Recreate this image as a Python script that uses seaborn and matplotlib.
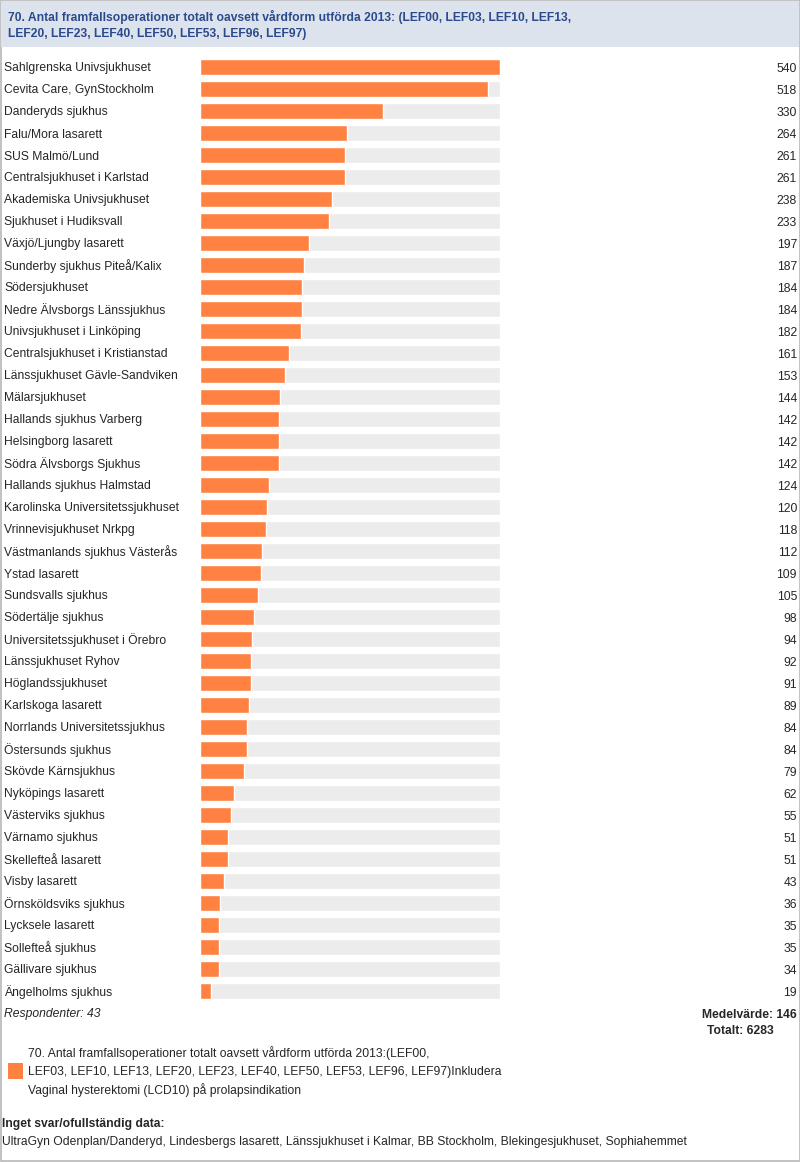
import matplotlib
matplotlib.use("Agg")
import matplotlib.pyplot as plt
import matplotlib.transforms as mtransforms
from matplotlib.patches import Rectangle
import seaborn as sns
import pandas as pd

hospitals = [
    "Sahlgrenska Univsjukhuset", "Cevita Care, GynStockholm", "Danderyds sjukhus",
    "Falu/Mora lasarett", "SUS Malmö/Lund", "Centralsjukhuset i Karlstad",
    "Akademiska Univsjukhuset", "Sjukhuset i Hudiksvall", "Växjö/Ljungby lasarett",
    "Sunderby sjukhus Piteå/Kalix", "Södersjukhuset", "Nedre Älvsborgs Länssjukhus",
    "Univsjukhuset i Linköping", "Centralsjukhuset i Kristianstad",
    "Länssjukhuset Gävle-Sandviken", "Mälarsjukhuset", "Hallands sjukhus Varberg",
    "Helsingborg lasarett", "Södra Älvsborgs Sjukhus", "Hallands sjukhus Halmstad",
    "Karolinska Universitetssjukhuset", "Vrinnevisjukhuset Nrkpg",
    "Västmanlands sjukhus Västerås", "Ystad lasarett", "Sundsvalls sjukhus",
    "Södertälje sjukhus", "Universitetssjukhuset i Örebro", "Länssjukhuset Ryhov",
    "Höglandssjukhuset", "Karlskoga lasarett", "Norrlands Universitetssjukhus",
    "Östersunds sjukhus", "Skövde Kärnsjukhus", "Nyköpings lasarett",
    "Västerviks sjukhus", "Värnamo sjukhus", "Skellefteå lasarett", "Visby lasarett",
    "Örnsköldsviks sjukhus", "Lycksele lasarett", "Sollefteå sjukhus",
    "Gällivare sjukhus", "Ängelholms sjukhus",
]
values = [540, 518, 330, 264, 261, 261, 238, 233, 197, 187, 184, 184, 182, 161,
          153, 144, 142, 142, 142, 124, 120, 118, 112, 109, 105, 98, 94, 92, 91,
          89, 84, 84, 79, 62, 55, 51, 51, 43, 36, 35, 35, 34, 19]

title_lines = [
    "70. Antal framfallsoperationer totalt oavsett vårdform utförda 2013: (LEF00, LEF03, LEF10, LEF13,",
    "LEF20, LEF23, LEF40, LEF50, LEF53, LEF96, LEF97)",
]
respondents_text = "Respondenter: 43"
mean_text = "Medelvärde: 146"
total_text = "Totalt: 6283"
legend_lines = [
    "70. Antal framfallsoperationer totalt oavsett vårdform utförda 2013:(LEF00,",
    "LEF03, LEF10, LEF13, LEF20, LEF23, LEF40, LEF50, LEF53, LEF96, LEF97)Inkludera",
    "Vaginal hysterektomi (LCD10) på prolapsindikation",
]
missing_title = "Inget svar/ofullständig data:"
missing_text = "UltraGyn Odenplan/Danderyd, Lindesbergs lasarett, Länssjukhuset i Kalmar, BB Stockholm, Blekingesjukhuset, Sophiahemmet"

ORANGE = "#ff8243"
TRACK = "#ececec"
W, H = 800, 1162
FONT = "Liberation Sans"
FS = 8.7

sns.set_style("white")
plt.rcParams["font.family"] = [FONT, "DejaVu Sans"]

df = pd.DataFrame({"hospital": hospitals, "value": values})
vmax = max(values)
df["track"] = vmax

fig = plt.figure(figsize=(W / 100, H / 100), dpi=100)

def fy(px):
    return 1 - px / H

def fx(px):
    return px / W

# outer border
fig.patches.append(Rectangle((fx(0.5), fy(1161)), fx(799), 1161 / H, transform=fig.transFigure,
                             fill=False, edgecolor="#b8b8b8", linewidth=1.2))
# title box
fig.patches.append(Rectangle((fx(1), fy(47)), fx(798), 46 / H, transform=fig.transFigure,
                             facecolor="#dce3ed", edgecolor="none"))
for i, line in enumerate(title_lines):
    fig.text(fx(8), fy(15 + 17 * i), line, color="#2b4a8c", fontsize=8.7,
             fontweight="bold", va="center_baseline", ha="left")

top_px, bot_px = 67 - 11, 991 + 11
ax = fig.add_axes([fx(200), fy(bot_px), fx(300), (bot_px - top_px) / H])
sns.barplot(data=df, x="track", y="hospital", orient="h", color=TRACK, width=16 / 22,
            saturation=1, ax=ax)
sns.barplot(data=df, x="value", y="hospital", orient="h", color=ORANGE, width=16 / 22,
            saturation=1, ax=ax)
ax.set_xlim(0, vmax)
ax.set_ylim(len(df) - 0.5, -0.5)
ax.set_xlabel("")
ax.set_ylabel("")
ax.set_xticks([])
for s in ax.spines.values():
    s.set_visible(False)
ax.tick_params(axis="y", length=0, pad=196 * 0.72, labelsize=FS)
for lab in ax.get_yticklabels():
    lab.set_ha("left")
    lab.set_va("center_baseline")

trans = mtransforms.blended_transform_factory(fig.transFigure, ax.transData)
for i, v in enumerate(values):
    ax.text(fx(797), i, str(v), transform=trans, ha="right", va="center_baseline", fontsize=FS)

fig.text(fx(4), fy(1013), respondents_text, fontsize=FS, style="italic", va="center_baseline", ha="left")
fig.text(fx(797), fy(1013), mean_text, fontsize=FS, fontweight="bold", va="center_baseline", ha="right")
fig.text(fx(774), fy(1029), total_text, fontsize=FS, fontweight="bold", va="center_baseline", ha="right")

fig.patches.append(Rectangle((fx(8), fy(1079)), fx(15), 16 / H, transform=fig.transFigure,
                             facecolor=ORANGE, edgecolor="none"))
for i, line in enumerate(legend_lines):
    fig.text(fx(28), fy(1052 + 18.5 * i), line, fontsize=FS, va="center_baseline", ha="left")

fig.text(fx(2), fy(1122), missing_title, fontsize=FS, fontweight="bold", va="center_baseline", ha="left")
fig.text(fx(2), fy(1140), missing_text, fontsize=FS, va="center_baseline", ha="left")

fig.savefig("out.png", dpi=100)
